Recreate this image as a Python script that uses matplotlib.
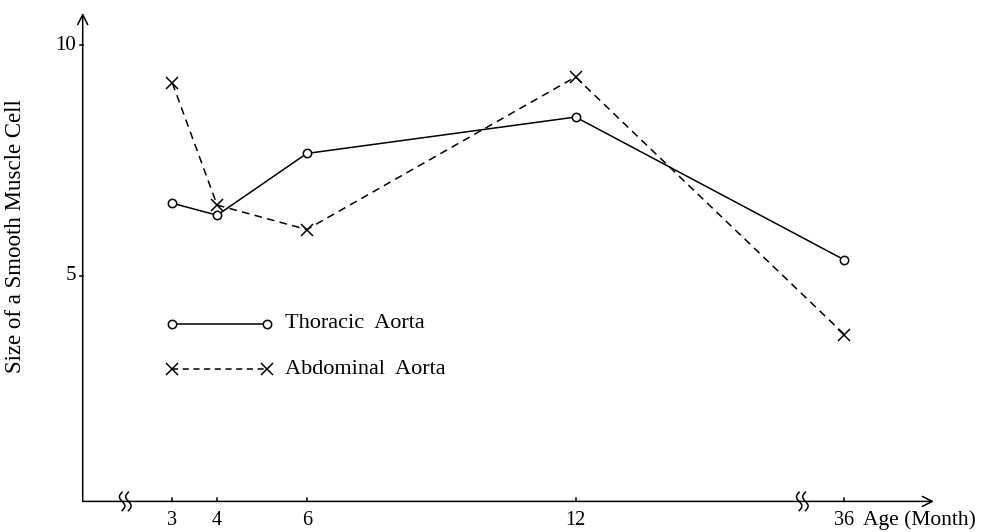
import numpy as np
import matplotlib.pyplot as plt

# mean cell size by age (months)
ages = [3, 4, 6, 12, 36]
thoracic = [6.57, 6.31, 7.65, 8.44, 5.34]
abdominal = [9.18, 6.53, 6.00, 9.31, 3.72]
x_ticks = [3, 4, 6, 12, 36]
y_ticks = [5, 10]


def xpos(age):
    # axis is broken between 12 and 36 months: 36 sits where 18 would be
    return age if age <= 12 else age - 18


plt.rcParams['font.family'] = ['Liberation Serif', 'DejaVu Serif']

fig = plt.figure(figsize=(9.86, 5.32), dpi=100)
ax = fig.add_axes([0, 0, 1, 1])
ax.set_xlim(-0.846, 21.16)
ax.set_ylim(-0.564, 10.98)
ax.axis('off')

k = dict(color='black', lw=1.1)
base = 0.1

# axes with arrow heads
ax.annotate('', xy=(20.0, base), xytext=(1.0, base),
            arrowprops=dict(arrowstyle='->', color='black', lw=1.1,
                            shrinkA=0, shrinkB=0, mutation_scale=18))
ax.annotate('', xy=(1.0, 10.7), xytext=(1.0, base),
            arrowprops=dict(arrowstyle='->', color='black', lw=1.1,
                            shrinkA=0, shrinkB=0, mutation_scale=18))

# axis break marks
t = np.linspace(-1, 1, 30)
for xb in (1.95, 17.06):
    ax.plot([xb - 0.15, xb + 0.15], [base, base], color='white', lw=3)
    for dx in (-0.07, 0.07):
        ax.plot(xb + dx - 0.06 * np.sin(t * np.pi), base + 0.2 * t, **k)

for a in x_ticks:
    ax.plot([xpos(a), xpos(a)], [base, base + 0.08], **k)
    ax.text(xpos(a), base - 0.2, str(a), ha='center', va='top', fontsize=14.5)
ax.text(18.42, base - 0.2, 'Age (Month)', ha='left', va='top', fontsize=15.5)

for v in y_ticks:
    ax.plot([0.93, 1.0], [v, v], **k)
    ax.text(0.85, v, str(v), ha='right', va='center', fontsize=15)

ax.text(-0.49, 5.85, 'Size of a Smooth Muscle Cell', rotation=90,
        ha='center', va='center', fontsize=16.5)

xs = [xpos(a) for a in ages]
ax.plot(xs, thoracic, '-', marker='o', ms=6, mfc='white', mec='black',
        mew=1.1, **k)
ax.plot(xs, abdominal, '--', marker='x', ms=9, mew=1.1,
        dashes=(5, 3.5), **k)

# legend drawn in the plot area
ax.plot([2.99, 5.11], [3.95, 3.95], '-', marker='o', ms=6, mfc='white',
        mec='black', mew=1.1, **k)
ax.text(5.52, 3.95, 'Thoracic  Aorta', va='center', fontsize=16)
ax.plot([2.99, 5.11], [2.97, 2.97], '--', marker='x', ms=9, mew=1.1,
        dashes=(4, 3), **k)
ax.text(5.52, 2.97, 'Abdominal  Aorta', va='center', fontsize=16)

fig.savefig('out.png', dpi=100)
